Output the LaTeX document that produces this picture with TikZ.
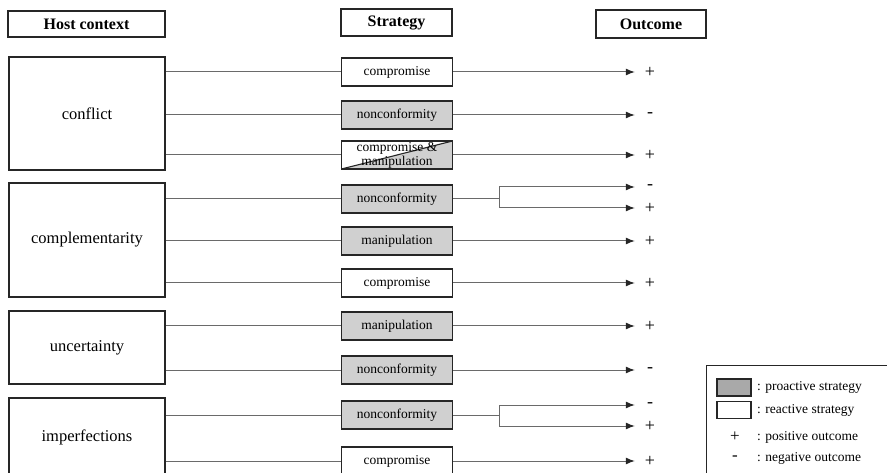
\documentclass[tikz,border=0pt]{standalone}
\usepackage{fontspec}
\setmainfont{Liberation Serif}
\usetikzlibrary{arrows.meta}
\definecolor{progray}{HTML}{D0D0D0}
\definecolor{keygray}{HTML}{A9A9A9}
\definecolor{linkgray}{HTML}{6A6A6A}

\begin{document}
\begin{tikzpicture}[x=1pt,y=-1pt,
  headbox/.style={draw=black!85,line width=1.2pt,fill=white,inner sep=0pt,
    font=\fontsize{16}{18}\selectfont\bfseries},
  hostbox/.style={draw=black!85,line width=1.1pt,fill=white,inner sep=0pt,
    minimum width=156pt,font=\fontsize{16.5}{18}\selectfont},
  stratbox/.style={draw=black!85,line width=1.1pt,inner sep=0pt,
    minimum width=111pt,minimum height=28pt,font=\fontsize{13.5}{15}\selectfont},
  pro/.style={fill=progray},
  react/.style={fill=white},
  outtext/.style={inner sep=0pt,minimum width=30pt,font=\fontsize{18}{18}\selectfont},
  link/.style={linkgray,line width=1pt},
  arr/.style={link,-{Latex[length=9pt,width=7pt,color=black!85]}},
  keytext/.style={anchor=west,inner sep=0pt,font=\fontsize{13.5}{15}\selectfont}]
  \useasboundingbox (0,0) rectangle (887,473);
  \clip (0,0) rectangle (887,473);

  % column heads
  \node[headbox,minimum width=157pt,minimum height=26pt] (hhost) at (86.5,24) {Host context};
  \node[headbox,minimum width=111pt,minimum height=27pt] (hstrat) at (396.5,22.5) {Strategy};
  \node[headbox,minimum width=110pt,minimum height=28pt] (hout) at (651,24) {Outcome};

  % host contexts
  \foreach \n/\y/\h/\lbl in {h1/113.5/113/conflict, h2/240/114/complementarity,
      h3/347.5/73/uncertainty, h4/437/78/imperfections}
    \node[hostbox,minimum height=\h pt] (\n) at (87,\y) {\lbl};

  % strategies
  \foreach \n/\y/\kind/\lbl in {s1/72/react/compromise, s2/115/pro/nonconformity,
      s4/199/pro/nonconformity, s5/241/pro/manipulation, s6/283/react/compromise,
      s7/326/pro/manipulation, s8/370/pro/nonconformity, s9/415/pro/nonconformity,
      s10/461/react/compromise}
    \node[stratbox,\kind] (\n) at (397,\y) {\lbl};
  \node[stratbox,fill=white,align=center,
    path picture={
      \fill[progray] (path picture bounding box.south west)
        -- (path picture bounding box.north east)
        -- (path picture bounding box.south east) -- cycle;
      \draw[black!85,line width=1.1pt] (path picture bounding box.south west)
        -- (path picture bounding box.north east);
    }] (s3) at (397,155) {compromise \&\\[-1pt]manipulation};

  \foreach \h/\s in {h1/s1,h1/s2,h1/s3,h2/s4,h2/s5,h2/s6,h3/s7,h3/s8,h4/s9,h4/s10}
    \draw[link] (\h.east |- \s.west) -- (\s.west);

  % outcomes
  \foreach \o/\y/\sign in {o1/72/+, o2/115/-, o3/155/+, o4/187/-, o5/208/+,
      o6/241/+, o7/283/+, o8/326/+, o9/370/-, o10/405/-, o11/426/+, o12/461/+}
    \node[outtext] (\o) at (650,\y) {\sign};

  \foreach \s/\o in {s1/o1,s2/o2,s3/o3,s5/o6,s6/o7,s7/o8,s8/o9,s10/o12}
    \draw[arr] (\s.east) -- (\o.west);

  % split outcomes
  \coordinate (j1) at (499,199);
  \coordinate (j2) at (499,415);
  \draw[link] (s4.east) -- (j1);
  \draw[arr] (j1) |- (o4.west);
  \draw[arr] (j1) |- (o5.west);
  \draw[link] (s9.east) -- (j2);
  \draw[arr] (j2) |- (o10.west);
  \draw[arr] (j2) |- (o11.west);

  % key
  \node[draw=black!85,line width=1pt,anchor=north west,inner sep=0pt,
    minimum width=200pt,minimum height=130pt] (key) at (706,365) {};
  \node[draw=black!85,line width=1.1pt,fill=keygray,minimum width=34pt,
    minimum height=17pt,inner sep=0pt] (kpro) at (734,387.5) {};
  \node[draw=black!85,line width=1.1pt,fill=white,minimum width=34pt,
    minimum height=17pt,inner sep=0pt] (kreact) at (734,410) {};
  \node[inner sep=0pt,font=\fontsize{17}{18}\selectfont] (kplus) at (735,437) {+};
  \node[inner sep=0pt,font=\fontsize{17}{18}\selectfont] (kminus) at (735,458) {-};
  \node[keytext] (tpro) at (757,387.5) {: proactive strategy};
  \node[keytext] (treact) at (757,410) {: reactive strategy};
  \node[keytext] (tplus) at (757,437) {: positive outcome};
  \node[keytext] (tminus) at (757,458) {: negative outcome};
\end{tikzpicture}
\end{document}
